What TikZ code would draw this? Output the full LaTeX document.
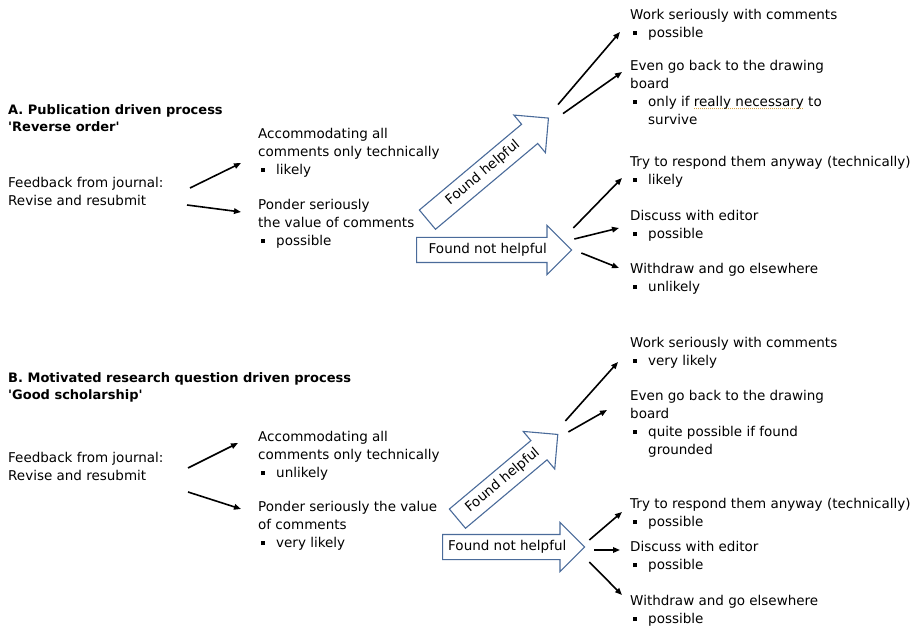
\documentclass[tikz,border=0pt]{standalone}
\usepackage{fontspec}
\setmainfont{DejaVu Sans}
\usepackage{xcolor}
\usepackage{tikz}
\usetikzlibrary{arrows.meta, shapes.arrows}

\definecolor{arrowblue}{HTML}{4A6B9A}
\definecolor{spellorange}{HTML}{D9A441}
\newcommand{\itm}{\hspace*{3pt}\makebox[15pt][l]{\rule[2.3pt]{4pt}{4pt}}}
\newsavebox{\spellbox}
\newcommand{\spellmark}[1]{\sbox{\spellbox}{#1}\rlap{\textcolor{spellorange}{\hbox to \wd\spellbox{\leaders\hbox to 2pt{\hss\rule[-3pt]{1pt}{1pt}\hss}\hfill}}}\usebox{\spellbox}}

\begin{document}
\begin{tikzpicture}[
    x=1pt, y=-1pt,
    txt/.style={anchor=north west, inner sep=0pt, align=left, font=\fontsize{13.5}{18}\selectfont, execute at begin node=\strut},
    heading/.style={txt, font=\fontsize{13}{17}\selectfont\bfseries},
    flow/.style={-{Triangle[length=7pt, width=5.5pt]}, line width=1.6pt},
    bigarrow/.style={single arrow, draw=arrowblue, line width=1.1pt, fill=white, anchor=tail,
        single arrow head extend=12pt, single arrow tip angle=90, single arrow head indent=0pt,
        inner xsep=4pt, inner ysep=6pt, text height=9.5pt, text depth=2.5pt, font=\fontsize{13.5}{16}\selectfont},
]
\useasboundingbox (0,0) rectangle (922,631);

% === A: Publication driven process ===
\node[heading] (titleA) at (8,104) {A. Publication driven process\\\textquotesingle Reverse order\textquotesingle};
\node[txt] (fbA) at (8,177) {Feedback from journal:\\Revise and resubmit};

\node[txt] (accA) at (258,128) {Accommodating all\\comments only technically\\\itm likely};
\node[txt] (pondA) at (258,199) {Ponder seriously\\the value of comments\\\itm possible};

\node[bigarrow, rotate=40, minimum height=158pt] (helpA) at (427,220) {Found helpful};
\node[bigarrow, minimum height=155pt] (nhelpA) at (416,250) {Found not helpful};

\node[txt] (workA) at (630,9) {Work seriously with comments\\\itm possible};
\node[txt] (evenA) at (630,60) {Even go back to the drawing\\board\\\itm only if \spellmark{really necessary} to\\\hspace*{18pt}survive};
\node[txt] (tryA) at (630,156) {Try to respond them anyway (technically)\\\itm likely};
\node[txt] (discA) at (630,210) {Discuss with editor\\\itm possible};
\node[txt] (withA) at (630,263) {Withdraw and go elsewhere\\\itm unlikely};

\coordinate (fbA-hi) at (190,188);
\coordinate (fbA-lo) at (187,205);
\coordinate (accA-in) at (241,163);
\coordinate (pondA-in) at (241,212);
\coordinate (workA-in) at (620,32);
\coordinate (evenA-in) at (622,72);
\coordinate (tryA-in) at (622,178);
\coordinate (discA-in) at (619,228);
\coordinate (withA-in) at (619,268);

\draw[flow] (fbA-hi) -- (accA-in);
\draw[flow] (fbA-lo) -- (pondA-in);
\draw[flow] ([shift={(9,-13)}]helpA.tip) -- (workA-in);
\draw[flow] ([shift={(14,-4)}]helpA.tip) -- (evenA-in);
\draw[flow] ([shift={(1,-22)}]nhelpA.tip) -- (tryA-in);
\draw[flow] ([shift={(2,-11)}]nhelpA.tip) -- (discA-in);
\draw[flow] ([shift={(9,3)}]nhelpA.tip) -- (withA-in);

% === B: Motivated research question driven process ===
\node[heading] (titleB) at (8,372) {B. Motivated research question driven process\\\textquotesingle Good scholarship\textquotesingle};
\node[txt] (fbB) at (8,452) {Feedback from journal:\\Revise and resubmit};

\node[txt] (accB) at (258,431) {Accommodating all\\comments only technically\\\itm unlikely};
\node[txt] (pondB) at (258,501) {Ponder seriously the value\\of comments\\\itm very likely};

\node[bigarrow, rotate=40, minimum height=131pt] (helpB) at (457,519) {Found helpful};
\node[bigarrow, minimum height=142pt] (nhelpB) at (442,547) {Found not helpful};

\node[txt] (workB) at (630,337) {Work seriously with comments\\\itm very likely};
\node[txt] (evenB) at (630,390) {Even go back to the drawing\\board\\\itm quite possible if found\\\hspace*{18pt}grounded};
\node[txt] (tryB) at (630,498) {Try to respond them anyway (technically)\\\itm possible};
\node[txt] (discB) at (630,541) {Discuss with editor\\\itm possible};
\node[txt] (withB) at (630,595) {Withdraw and go elsewhere\\\itm possible};

\coordinate (fbB-hi) at (188,468);
\coordinate (fbB-lo) at (188,492);
\coordinate (accB-in) at (238,443);
\coordinate (pondB-in) at (241,509);
\coordinate (workB-in) at (618,362);
\coordinate (evenB-in) at (607,410);
\coordinate (tryB-in) at (622,512);
\coordinate (discB-in) at (620,550);
\coordinate (withB-in) at (622,595);

\draw[flow] (fbB-hi) -- (accB-in);
\draw[flow] (fbB-lo) -- (pondB-in);
\draw[flow] ([shift={(7,-13)}]helpB.tip) -- (workB-in);
\draw[flow] ([shift={(10,-2)}]helpB.tip) -- (evenB-in);
\draw[flow] ([shift={(4,-7)}]nhelpB.tip) -- (tryB-in);
\draw[flow] ([shift={(9,3)}]nhelpB.tip) -- (discB-in);
\draw[flow] ([shift={(4,15)}]nhelpB.tip) -- (withB-in);

\end{tikzpicture}
\end{document}
